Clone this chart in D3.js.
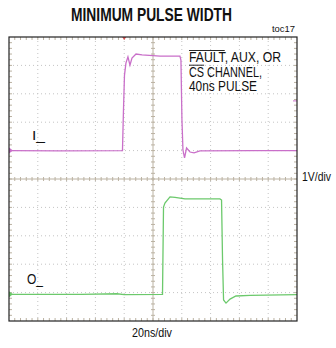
<!DOCTYPE html>
<html>
<head>
<meta charset="utf-8">
<script src="https://cdn.jsdelivr.net/npm/d3@7"></script>
<style>
  body { margin: 0; background: #fff; }
  text { font-family: "Liberation Sans", Arial, sans-serif; fill: #111; }
</style>
</head>
<body>
<script>
const width = 336;
const height = 348;

// scope traces: time in ns (20ns/div), level in divisions (1V/div), 0 = centre line
const inTime = [0, 35, 78.8, 79.5, 80.2, 81.2, 82.6, 84.0, 85.4, 88.2, 92.4, 104.9, 118.7, 119.4, 120.1, 120.8, 121.9, 123.3, 125.7, 128.5, 132.6, 170, 200];
const inLevel = [1.0, 0.99, 1.0, 2.43, 3.66, 4.08, 4.30, 4.01, 4.26, 4.40, 4.37, 4.33, 4.33, 4.19, 2.08, 1.02, 0.74, 1.09, 0.95, 0.92, 0.99, 1.0, 1.0];

const outTime = [0, 50, 75, 80, 106.6, 107.3, 108.3, 111.8, 115.3, 122.2, 146.5, 147.6, 148.3, 149.0, 150.7, 153.5, 157.6, 167.4, 200];
const outLevel = [-4.06, -4.06, -4.04, -4.07, -4.06, -0.99, -0.85, -0.63, -0.65, -0.70, -0.70, -0.74, -2.85, -4.26, -4.37, -4.23, -4.12, -4.10, -4.07];

const traceColors = { input: "#c96fc9", output: "#6cc96c" };

// scales
const x = d3.scaleLinear().domain([0, 200]).range([9, 297]);
const y = d3.scaleLinear().domain([-5, 5]).range([321, 37]);

const svg = d3.select("body").append("svg")
  .attr("width", width)
  .attr("height", height);

// grid: dotted division lines
const xDivs = d3.range(20, 200, 20);
const yDivs = d3.range(-4, 5, 1);

svg.append("g").selectAll("line")
  .data(xDivs.filter(d => d !== 100))
  .join("line")
  .attr("x1", d => x(d)).attr("x2", d => x(d))
  .attr("y1", y(5)).attr("y2", y(-5))
  .attr("stroke", "#c4c4c4")
  .attr("stroke-dasharray", "1,3");

svg.append("g").selectAll("line")
  .data(yDivs.filter(d => d !== 0))
  .join("line")
  .attr("y1", d => y(d)).attr("y2", d => y(d))
  .attr("x1", x(0)).attr("x2", x(200))
  .attr("stroke", "#c4c4c4")
  .attr("stroke-dasharray", "1,3");

// centre lines with minor ticks every 1/5 division
const centreColor = "#bbb2a2";
svg.append("line")
  .attr("x1", x(0)).attr("x2", x(200))
  .attr("y1", y(0)).attr("y2", y(0))
  .attr("stroke", centreColor);
svg.append("line")
  .attr("x1", x(100)).attr("x2", x(100))
  .attr("y1", y(5)).attr("y2", y(-5))
  .attr("stroke", centreColor);

const minorT = d3.range(4, 200, 4);
const minorV = d3.range(-4.8, 5, 0.2);

const ticks = svg.append("g").attr("stroke", centreColor);
minorT.forEach(t => {
  ticks.append("line").attr("x1", x(t)).attr("x2", x(t)).attr("y1", y(0) - 2).attr("y2", y(0) + 2);
  ticks.append("line").attr("x1", x(t)).attr("x2", x(t)).attr("y1", y(5)).attr("y2", y(5) + 3);
  ticks.append("line").attr("x1", x(t)).attr("x2", x(t)).attr("y1", y(-5)).attr("y2", y(-5) - 3);
});
minorV.forEach(v => {
  ticks.append("line").attr("y1", y(v)).attr("y2", y(v)).attr("x1", x(100) - 2).attr("x2", x(100) + 2);
  ticks.append("line").attr("y1", y(v)).attr("y2", y(v)).attr("x1", x(0)).attr("x2", x(0) + 3);
  ticks.append("line").attr("y1", y(v)).attr("y2", y(v)).attr("x1", x(200)).attr("x2", x(200) - 3);
});

// traces
const line = d3.line().x(d => x(d[0])).y(d => y(d[1]));

svg.append("path")
  .datum(d3.zip(inTime, inLevel))
  .attr("d", line)
  .attr("fill", "none")
  .attr("stroke", traceColors.input)
  .attr("stroke-width", 1.3);

svg.append("path")
  .datum(d3.zip(outTime, outLevel))
  .attr("d", line)
  .attr("fill", "none")
  .attr("stroke", traceColors.output)
  .attr("stroke-width", 1.3);

// channel ground markers on the left edge
[[inLevel[0], traceColors.input], [outLevel[0], traceColors.output]].forEach(([v, c]) => {
  svg.append("path")
    .attr("d", `M${x(0)},${y(v) - 3}L${x(0) + 4},${y(v)}L${x(0)},${y(v) + 3}Z`)
    .attr("fill", c);
});
// trigger level marker on right edge, trigger position on top
svg.append("line")
  .attr("x1", x(200) - 4).attr("x2", x(200))
  .attr("y1", y(2.75)).attr("y2", y(2.75))
  .attr("stroke", traceColors.input);
svg.append("path")
  .attr("d", `M${x(80) - 2},${y(5)}L${x(80) + 2},${y(5)}L${x(80)},${y(5) + 3}Z`)
  .attr("fill", "#e05050");

// frame
svg.append("rect")
  .attr("x", x(0)).attr("y", y(5))
  .attr("width", x(200) - x(0)).attr("height", y(-5) - y(5))
  .attr("fill", "none")
  .attr("stroke", "#222")
  .attr("stroke-width", 1.2);

// texts
svg.append("text")
  .attr("x", 71).attr("y", 21)
  .attr("font-size", 18).attr("font-weight", "bold")
  .attr("textLength", 161).attr("lengthAdjust", "spacingAndGlyphs")
  .text("MINIMUM PULSE WIDTH");

svg.append("text")
  .attr("x", 272).attr("y", 32)
  .attr("font-size", 9.5)
  .attr("textLength", 23).attr("lengthAdjust", "spacingAndGlyphs")
  .text("toc17");

const noteLines = [
  { text: "FAULT, AUX, OR", bar: "FAULT", len: 92 },
  { text: "CS CHANNEL,", bar: "CS", len: 73 },
  { text: "40ns PULSE", bar: null, len: 68 }
];
noteLines.forEach((l, i) => {
  const t = svg.append("text")
    .attr("x", 189).attr("y", 62 + i * 14.7)
    .attr("font-size", 14)
    .attr("textLength", l.len).attr("lengthAdjust", "spacingAndGlyphs")
    .text(l.text);
  if (l.bar) {
    const w = t.node().getSubStringLength(0, l.bar.length);
    svg.append("line")
      .attr("x1", 189).attr("x2", 189 + w)
      .attr("y1", 62 + i * 14.7 - 11.5).attr("y2", 62 + i * 14.7 - 11.5)
      .attr("stroke", "#111").attr("stroke-width", 0.9);
  }
});

svg.append("text")
  .attr("x", 32).attr("y", 140)
  .attr("font-size", 13.5)
  .attr("textLength", 13).attr("lengthAdjust", "spacingAndGlyphs")
  .text("I_");

svg.append("text")
  .attr("x", 27).attr("y", 283.5)
  .attr("font-size", 14)
  .attr("textLength", 16).attr("lengthAdjust", "spacingAndGlyphs")
  .text("O_");

svg.append("text")
  .attr("x", 302).attr("y", 181)
  .attr("font-size", 13)
  .attr("textLength", 29).attr("lengthAdjust", "spacingAndGlyphs")
  .text("1V/div");

svg.append("text")
  .attr("x", 132).attr("y", 337)
  .attr("font-size", 13.5)
  .attr("textLength", 40).attr("lengthAdjust", "spacingAndGlyphs")
  .text("20ns/div");
</script>
</body>
</html>
